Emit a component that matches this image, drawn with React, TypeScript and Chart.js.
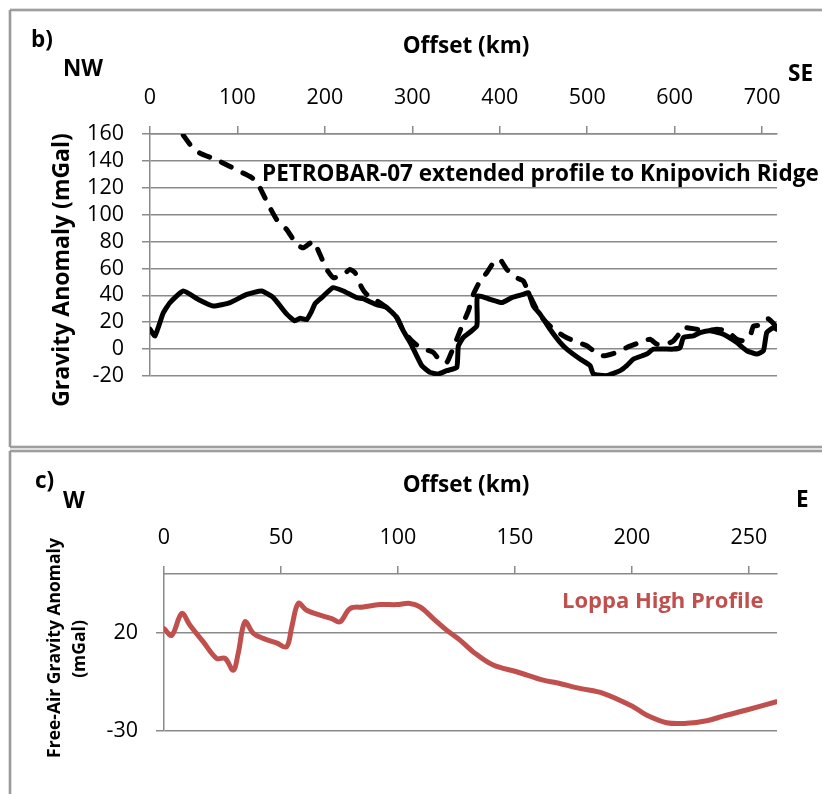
import React, { useEffect, useRef } from "react";
import { Chart, registerables } from "chart.js";
Chart.register(...registerables);

const FONT = '"Open Sans", "Liberation Sans", sans-serif';
const GRID = "#8a8a8a";

// ---- Panel b data (Offset km, Gravity anomaly mGal) ----
const solidKm = [0, 5.7, 15.2, 22.9, 38.1, 55, 72.4, 91.5, 110.6, 127.8, 141, 156.4, 165.8, 171.6, 179.2, 185, 188.7, 196.4, 209.3, 221.1, 236.4, 243.6, 259.3, 270.7, 282.2, 289.7, 297.4, 305, 310.8, 320.3, 329.7, 339.4, 350.8, 352.6, 358.3, 373.7, 374.4, 388.9, 402.3, 413.7, 427, 432.7, 438.4, 446.1, 457.5, 468.9, 476.6, 491.8, 503.3, 507, 522.3, 537.6, 545.2, 552.8, 568.1, 575.7, 598.5, 606.2, 610, 621.4, 629.1, 640.5, 655.7, 671, 682.5, 693.9, 701.5, 705.3, 713, 716.6];
const solidVal = [14.8, 9.9, 27, 34.6, 43.2, 37, 32, 34.6, 40.7, 43.2, 38.3, 26, 21, 23, 22, 28.4, 33.8, 38.3, 45.7, 43.2, 38.3, 37.5, 33, 30.9, 23.5, 13.6, 5, -5, -12.3, -17.3, -18.5, -16, -13.6, 2.4, 8.6, 17.3, 39.5, 37, 34.6, 38.3, 40.7, 42, 32, 26, 14.8, 5, 0, -7.4, -12.3, -18.5, -19.7, -16, -12.3, -7.4, -3.7, 0, 0, 1.2, 8.6, 9.9, 12.3, 13.6, 11.1, 4.9, -1.2, -3.7, -1.2, 12.3, 16, 14.8];

const dashKm = [38.1, 47.7, 57.2, 76.3, 91.5, 102.9, 114.4, 122, 127.8, 137.3, 144.9, 156.4, 167.8, 175.3, 186.8, 194.4, 202.1, 209.7, 220, 228.8, 234.5, 242.1, 247.8, 259.3, 270.7, 282.2, 289.7, 299.3, 308.8, 324, 331.7, 339.4, 343.1, 350.8, 358.3, 364.1, 369.8, 377.4, 385.1, 392.7, 400.3, 408, 419.4, 427, 434.6, 442.3, 449.9, 461.3, 472.7, 484.2, 499.5, 507, 518.5, 533.7, 545.2, 560.4, 571.9, 579.5, 591, 598.6, 606.2, 610, 625.3, 636.7, 648.2, 659.6, 671, 678.6, 686.3, 690, 698.9, 706.9, 713, 716.6];
const dashVal = [159, 150.6, 145.7, 140.7, 135.8, 132.1, 128.4, 124.7, 117.3, 105, 96.3, 88.9, 77.8, 75.3, 80.2, 70.4, 59.3, 53.1, 55, 59.3, 56.8, 45.7, 40.7, 36, 30.9, 23.5, 13.6, 6.2, 1.2, -2.5, -8.6, -9.9, -5, 7.4, 19.8, 28.4, 40.7, 50.6, 56.8, 64.2, 66.7, 59.3, 53.1, 50.6, 39.5, 29.6, 22.2, 14.8, 9.9, 6.2, 2.5, -1.2, -5, -2.5, 1.2, 5, 7.4, 3.7, 3.7, 6.2, 12.3, 16, 14.8, 13.6, 14.8, 13.6, 7.4, 6.2, 9.9, 17, 18, 22.5, 19, 16];

const xTicksB = [0, 100, 200, 300, 400, 500, 600, 700];
const yTicksB = [-20, 0, 20, 40, 60, 80, 100, 120, 140, 160];

// ---- Panel c data (Loppa High profile) ----
const redKm = [0, 3.3, 7.6, 11.1, 16.8, 22.5, 26.1, 29.6, 31.7, 34.6, 38.2, 42.4, 48.1, 52.4, 54.6, 57.4, 61, 66.7, 71.7, 75.2, 79.5, 85.2, 92.3, 99.4, 105.1, 109.4, 115.1, 120.8, 126.5, 132.2, 140.7, 150.7, 162.1, 167.8, 177.7, 187.7, 200.5, 206.2, 214.8, 223.3, 231.9, 239, 249, 261.8];
const redVal = [22.2, 18.8, 29.9, 23.9, 15.4, 7, 7, 1, 9.5, 25.6, 19.7, 17.2, 14.9, 12.9, 23, 35, 31.5, 29, 27.3, 25.6, 32.4, 33.2, 34.4, 34.4, 35, 33.2, 27.3, 21.4, 16.3, 10.3, 3.6, 0.2, -4.1, -5.4, -8.3, -10.8, -17.6, -21.9, -25.8, -26.1, -24.8, -22.4, -19.3, -15.1];

const xTicksC = [0, 50, 100, 150, 200, 250];
const yTicksC = [-30, 20];

const pts = (xs: number[], ys: number[]) => xs.map((x, i) => ({ x, y: ys[i] }));

type T = { text: string; x: number; y: number; size: number; color?: string; align?: CanvasTextAlign; rotate?: boolean; weight?: string };

function drawTexts(ctx: CanvasRenderingContext2D, items: T[]) {
  for (const t of items) {
    ctx.save();
    ctx.font = `${t.weight ?? "bold"} ${t.size}px ${FONT}`;
    ctx.fillStyle = t.color ?? "#000";
    ctx.textAlign = t.align ?? "left";
    ctx.textBaseline = "middle";
    ctx.translate(t.x, t.y);
    if (t.rotate) ctx.rotate(-Math.PI / 2);
    ctx.fillText(t.text, 0, 0);
    ctx.restore();
  }
}

function borderLines(ctx: CanvasRenderingContext2D, lines: number[][]) {
  ctx.save();
  ctx.strokeStyle = "#d4d4d4";
  ctx.lineWidth = 3.5;
  for (const l of lines) { ctx.beginPath(); ctx.moveTo(l[0], l[1]); ctx.lineTo(l[2], l[3]); ctx.stroke(); }
  ctx.strokeStyle = "#8c8c8c";
  ctx.lineWidth = 1.6;
  for (const l of lines) { ctx.beginPath(); ctx.moveTo(l[0], l[1]); ctx.lineTo(l[2], l[3]); ctx.stroke(); }
  ctx.restore();
}

function scaleCommon(ticks: number[], fixed: { w?: number; h?: number }, pad: number, onArea: boolean) {
  return {
    afterBuildTicks: (s: any) => { s.ticks = ticks.map((v) => ({ value: v })); },
    afterFit: (s: any) => { if (fixed.w !== undefined) s.width = fixed.w; if (fixed.h !== undefined) s.height = fixed.h; },
    grid: { drawOnChartArea: onArea, drawTicks: true, tickLength: 8, color: GRID, lineWidth: 1.5 },
    border: { display: true, color: GRID, width: 1.5 },
    ticks: { font: { family: FONT, size: 21.5 }, color: "#000", padding: pad, maxRotation: 0, autoSkip: false },
  };
}

export default function App() {
  const refB = useRef<HTMLCanvasElement>(null);
  const refC = useRef<HTMLCanvasElement>(null);

  useEffect(() => {
    const textsB: T[] = [
      { text: "b)", x: 31, y: 41, size: 22.5 },
      { text: "Offset (km)", x: 466, y: 47, size: 22.5, align: "center" },
      { text: "NW", x: 63, y: 70, size: 22.5 },
      { text: "SE", x: 788, y: 75, size: 22.5 },
      { text: "PETROBAR-07 extended profile to Knipovich Ridge", x: 262, y: 175, size: 22.5 },
      { text: "Gravity Anomaly (mGal)", x: 62, y: 270, size: 23, align: "center", rotate: true },
    ];
    const textsC: T[] = [
      { text: "c)", x: 35, y: 33, size: 22.5 },
      { text: "W", x: 63, y: 53, size: 22.5 },
      { text: "Offset (km)", x: 466, y: 37, size: 22.5, align: "center" },
      { text: "E", x: 796, y: 52, size: 22.5 },
      { text: "Loppa High Profile", x: 562, y: 153, size: 22, color: "#c0504d" },
      { text: "Free-Air Gravity Anomaly", x: 55, y: 199, size: 17.5, align: "center", rotate: true },
      { text: "(mGal)", x: 80, y: 200, size: 17.5, align: "center", rotate: true },
    ];

    const cb = new Chart(refB.current!, {
      type: "line",
      data: {
        datasets: [
          { data: pts(solidKm, solidVal), borderColor: "#000", borderWidth: 5, pointRadius: 0, tension: 0.15, borderJoinStyle: "round", borderCapStyle: "round", fill: false },
          { data: pts(dashKm, dashVal), borderColor: "#000", borderWidth: 5, pointRadius: 0, tension: 0.15, borderDash: [11, 13], borderJoinStyle: "round", borderCapStyle: "round", fill: false },
        ],
      },
      options: {
        responsive: false,
        animation: false,
        layout: { padding: { left: 0, top: 0, right: 45, bottom: 73 } },
        plugins: { legend: { display: false }, tooltip: { enabled: false } },
        scales: {
          x: { type: "linear", position: "top", min: 0, max: 717, ...scaleCommon(xTicksB, { h: 134 }, 15, false) },
          y: { type: "linear", min: -20, max: 160, ...scaleCommon(yTicksB, { w: 150 }, 18, true) },
        },
      } as any,
      plugins: [{
        id: "decoB",
        afterDraw: (chart: any) => {
          const ctx = chart.ctx;
          borderLines(ctx, [[10, 10, 822, 10], [10, 10, 10, 447], [10, 447, 822, 447]]);
          drawTexts(ctx, textsB);
        },
      }],
    });

    const cc = new Chart(refC.current!, {
      type: "line",
      data: {
        datasets: [
          { data: pts(redKm, redVal), borderColor: "#c0504d", borderWidth: 5, pointRadius: 0, tension: 0.35, borderJoinStyle: "round", borderCapStyle: "round", fill: false },
        ],
      },
      options: {
        responsive: false,
        animation: false,
        layout: { padding: { left: 0, top: 0, right: 45, bottom: 63 } },
        plugins: { legend: { display: false }, tooltip: { enabled: false } },
        scales: {
          x: { type: "linear", position: "top", min: 0, max: 262, ...scaleCommon(xTicksC, { h: 125 }, 15, false) },
          y: { type: "linear", min: -30, max: 50, ...scaleCommon(yTicksC, { w: 164 }, 18, true) },
        },
      } as any,
      plugins: [{
        id: "decoC",
        afterDraw: (chart: any) => {
          const ctx = chart.ctx;
          borderLines(ctx, [[10, 2, 822, 2], [10, 2, 10, 345]]);
          drawTexts(ctx, textsC);
        },
      }],
    });

    return () => { cb.destroy(); cc.destroy(); };
  }, []);

  return (
    <div style={{ position: "absolute", left: 0, top: 0, width: 822, height: 794, background: "#fff", overflow: "hidden" }}>
      <canvas ref={refB} width={822} height={449} style={{ position: "absolute", left: 0, top: 0, width: 822, height: 449 }} />
      <canvas ref={refC} width={822} height={345} style={{ position: "absolute", left: 0, top: 449, width: 822, height: 345 }} />
    </div>
  );
}
